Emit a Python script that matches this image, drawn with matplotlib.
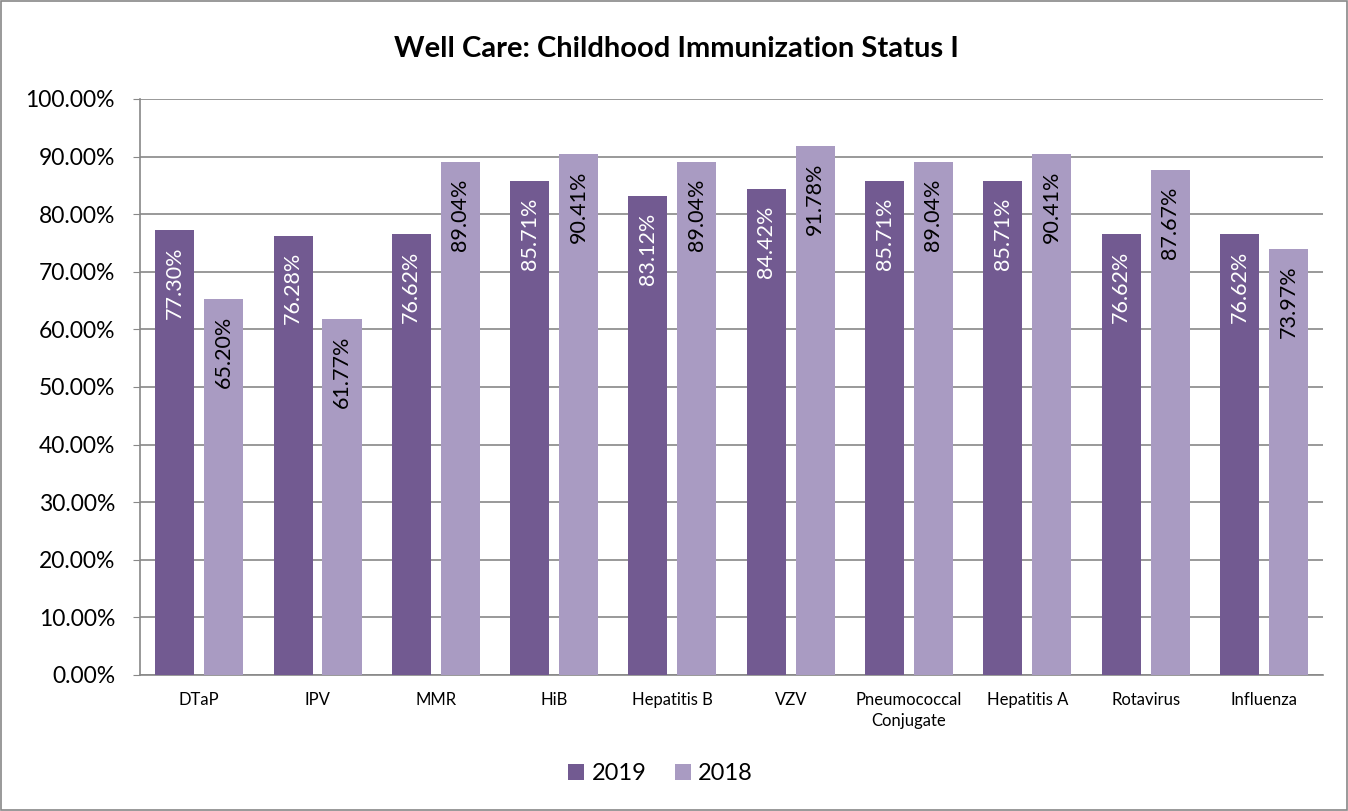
import matplotlib
matplotlib.use('Agg')
import matplotlib.pyplot as plt
from matplotlib.ticker import FuncFormatter
from matplotlib.patches import Rectangle
import numpy as np

plt.rcParams['font.family'] = ['Lato', 'DejaVu Sans']

labels = ['DTaP', 'IPV', 'MMR', 'HiB', 'Hepatitis B', 'VZV',
          'Pneumococcal\nConjugate', 'Hepatitis A', 'Rotavirus', 'Influenza']
rates_2019 = [77.30, 76.28, 76.62, 85.71, 83.12, 84.42, 85.71, 85.71, 76.62, 76.62]
rates_2018 = [65.20, 61.77, 89.04, 90.41, 89.04, 91.78, 89.04, 90.41, 87.67, 73.97]

dark = '#725A91'
light = '#A99BC2'

x = np.arange(len(labels))
width = 0.33

fig = plt.figure(figsize=(13.48, 8.11), dpi=100)
ax = fig.add_axes([0.1039, 0.1677, 0.8776, 0.7103])

rects1 = ax.bar(x - 0.207, rates_2019, width, color=dark, label='2019', zorder=3)
rects2 = ax.bar(x + 0.207, rates_2018, width, color=light, label='2018', zorder=3)

ax.set_xlim(-0.5, len(labels) - 0.5)
ax.set_ylim(0, 100)
ax.set_yticks(np.arange(0, 101, 10))
ax.yaxis.set_major_formatter(FuncFormatter(lambda v, p: '{:.2f}%'.format(v)))
ax.set_xticks(x)
ax.set_xticklabels(labels, fontsize=12, va='top', linespacing=1.4)
ax.tick_params(axis='x', length=0, pad=12)
ax.tick_params(axis='y', labelsize=16.5, length=5, color='#888888', pad=13)
ax.grid(axis='y', color='#888888', linewidth=1.2, zorder=0)
for s in ['top', 'right']:
    ax.spines[s].set_visible(False)
for s in ['left', 'bottom']:
    ax.spines[s].set_color('#888888')
    ax.spines[s].set_linewidth(1.2)


def autolabel(rects, color):
    """Put the value inside each bar, rotated, near the top."""
    for rect in rects:
        height = rect.get_height()
        ax.annotate('{:.2f}%'.format(height),
                    xy=(rect.get_x() + rect.get_width() / 2, height),
                    xytext=(0, -12), textcoords='offset points',
                    ha='center', va='top', rotation=90,
                    fontsize=15.5, color=color, zorder=4)


autolabel(rects1, 'white')
autolabel(rects2, 'black')

fig.text(0.502, 0.939, 'Well Care: Childhood Immunization Status I',
         ha='center', va='center', fontsize=21, fontweight='bold')

fig.legend(handles=[rects1, rects2], labels=['2019', '2018'],
           loc='center', bbox_to_anchor=(0.49, 0.046), ncol=2, frameon=False,
           fontsize=17, handlelength=0.7, handleheight=0.7,
           handletextpad=0.3, columnspacing=1.2)

fig.patches.append(Rectangle((0.001, 0.001), 0.998, 0.998, transform=fig.transFigure,
                             fill=False, edgecolor='#888888', linewidth=1.2))

plt.savefig('out.png', dpi=100)
